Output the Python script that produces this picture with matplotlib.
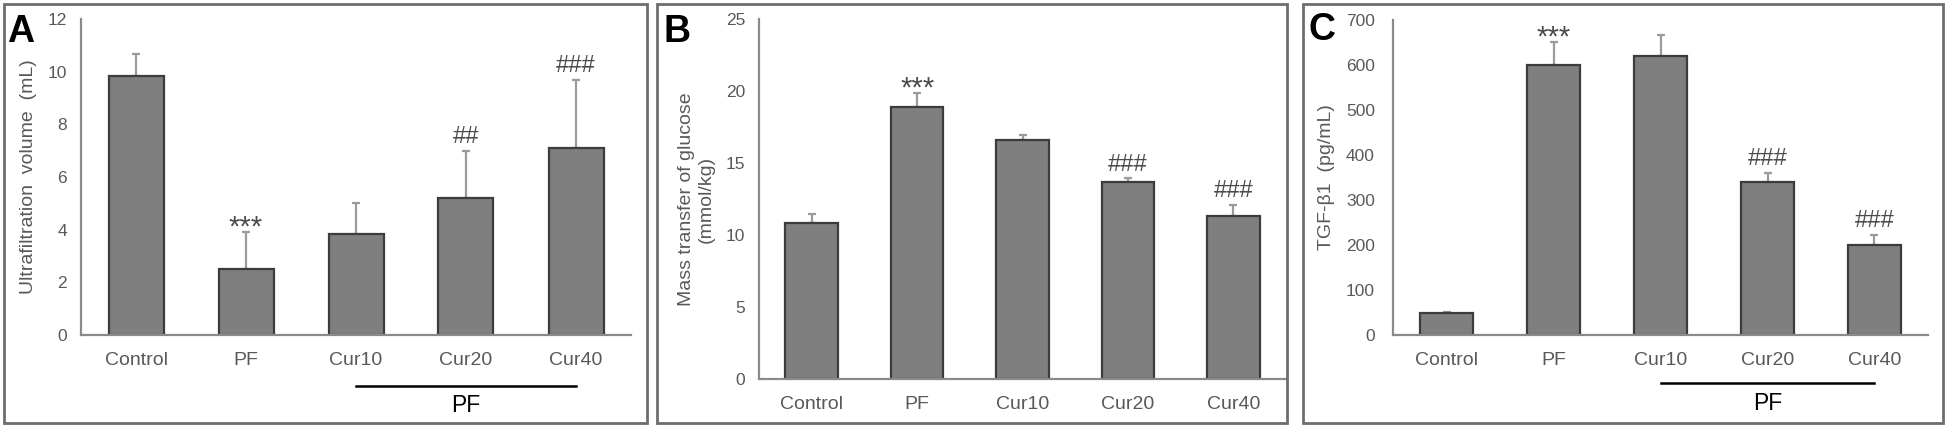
import numpy as np
import matplotlib.pyplot as plt
from matplotlib.patches import Rectangle

plt.rcParams['font.family'] = ['Liberation Sans', 'DejaVu Sans']

groups = ['Control', 'PF', 'Cur10', 'Cur20', 'Cur40']

# panel A: ultrafiltration volume
uf_mean = [9.85, 2.49, 3.82, 5.19, 7.11]
uf_err = [0.82, 1.43, 1.18, 1.81, 2.57]
uf_marks = ['', '***', '', '##', '###']

# panel B: mass transfer of glucose
glc_mean = [10.8, 18.9, 16.6, 13.68, 11.3]
glc_err = [0.67, 0.93, 0.34, 0.26, 0.8]
glc_marks = ['', '***', '', '###', '###']

# panel C: TGF-beta1
tgf_mean = [50, 599, 621, 341, 199]
tgf_err = [2, 52, 45, 19, 23]
tgf_marks = ['', '***', '', '###', '###']

W, H = 1946, 429
fig = plt.figure(figsize=(W / 100, H / 100), dpi=100)

txt_gray = '#595959'
axis_gray = '#8a8a8a'


def px_axes(x0, x1, ytop, ybot):
    return fig.add_axes([x0 / W, 1 - ybot / H, (x1 - x0) / W, (ybot - ytop) / H])


def panel(ax, means, errs, marks, ymax, ystep, ylabel, ypad):
    x = np.arange(len(groups))
    ax.bar(x, means, width=0.5, color='#7f7f7f', edgecolor='#3c3c3c', linewidth=1.6, zorder=2)
    ax.errorbar(x, means, yerr=[np.zeros(len(errs)), errs], fmt='none',
                ecolor='#9a9a9a', elinewidth=1.6, capsize=3, capthick=1.6, zorder=1)
    for xi, m, e, s in zip(x, means, errs, marks):
        if s.startswith('*'):
            ax.annotate(s, (xi, m + e), xytext=(0, -2.5), textcoords='offset points',
                        ha='center', va='baseline', fontsize=21, color='#4a4a4a')
        elif s:
            ax.annotate(s, (xi, m + e), xytext=(0, 5.5), textcoords='offset points',
                        ha='center', va='baseline', fontsize=17, color='#4a4a4a')
    ax.set_xlim(-0.5, len(groups) - 0.5)
    ax.set_ylim(0, ymax)
    ax.set_yticks(np.arange(0, ymax + ystep / 2, ystep))
    ax.set_xticks(x)
    ax.set_xticklabels(groups)
    ax.tick_params(axis='x', length=0, pad=12, labelsize=14, labelcolor=txt_gray)
    ax.tick_params(axis='y', length=0, pad=ypad, labelsize=12.5, labelcolor=txt_gray)
    for sp in ['top', 'right']:
        ax.spines[sp].set_visible(False)
    for sp in ['left', 'bottom']:
        ax.spines[sp].set_color(axis_gray)
        ax.spines[sp].set_linewidth(1.6)
    ax.set_ylabel(ylabel, fontsize=14, color=txt_gray, labelpad=8)


def pf_bracket(ax, yline, ytext):
    ax.plot([2, 4], [yline, yline], transform=ax.get_xaxis_transform(),
            color='black', lw=1.8, clip_on=False)
    ax.text(3, ytext, 'PF', transform=ax.get_xaxis_transform(),
            ha='center', va='center', fontsize=16.5, color='black')


axA = px_axes(81, 631, 19, 335)
panel(axA, uf_mean, uf_err, uf_marks, 12, 2, 'Ultrafiltration  volume  (mL)', 10)
pf_bracket(axA, -0.16, -0.222)

axB = px_axes(759, 1286, 19, 379)
panel(axB, glc_mean, glc_err, glc_marks, 25, 5, 'Mass transfer of glucose\n(mmol/kg)', 10)

axC = px_axes(1393, 1928, 20, 335)
panel(axC, tgf_mean, tgf_err, tgf_marks, 700, 100, 'TGF-\u03b21  (pg/mL)', 13)
pf_bracket(axC, -0.152, -0.216)

# panel frames and letters
frames = [(4, 647), (657, 1287), (1303, 1943)]
letters = [('A', 7, 42), ('B', 663, 42), ('C', 1308, 40)]
for (x0, x1) in frames:
    fig.patches.append(Rectangle((x0 / W, 1 - 423 / H), (x1 - x0) / W, 419 / H,
                                 transform=fig.transFigure, fill=False,
                                 edgecolor='#6e6e6e', linewidth=2))
for s, xl, yb in letters:
    fig.text(xl / W, 1 - yb / H, s, fontsize=27, fontweight='bold',
             ha='left', va='baseline', color='black')

fig.savefig('out.png', dpi=100)
